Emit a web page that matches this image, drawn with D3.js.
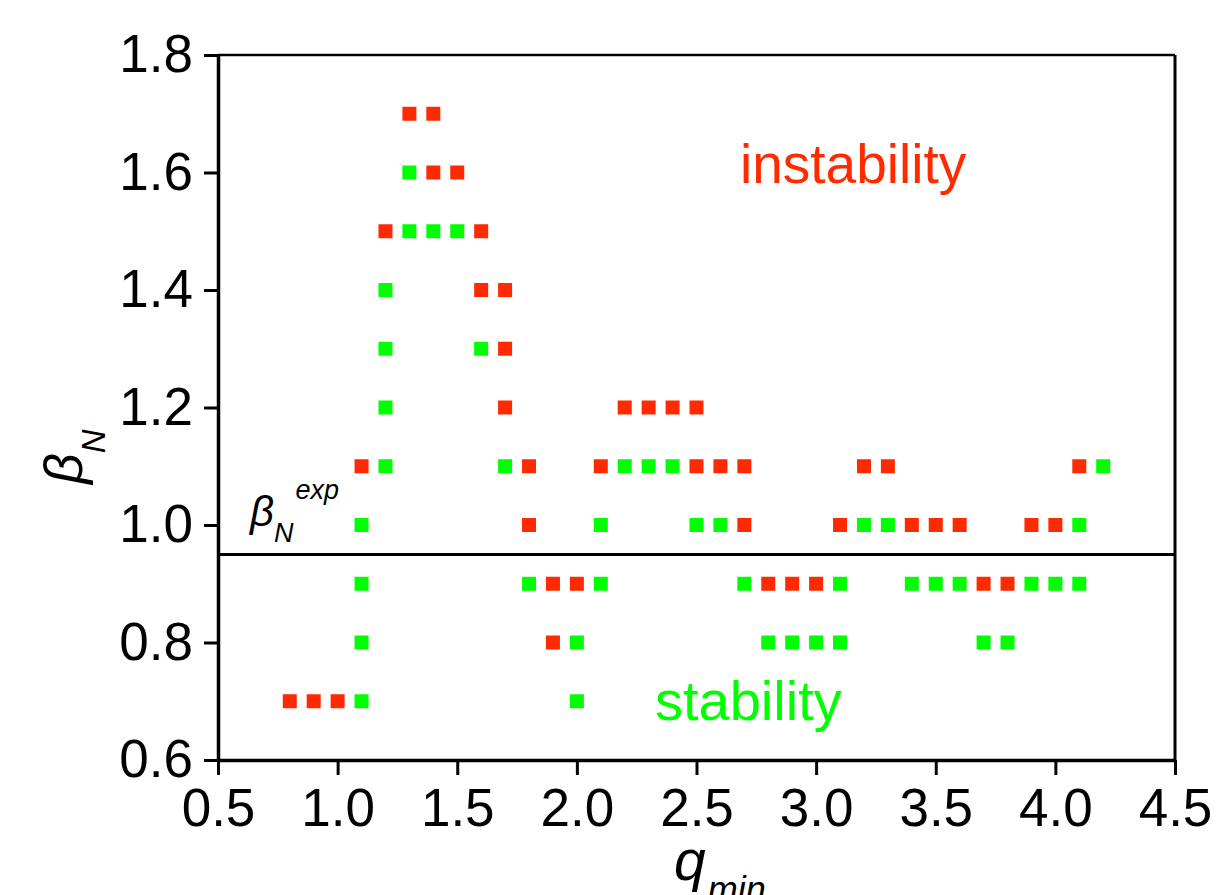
<!DOCTYPE html>
<html>
<head>
<meta charset="utf-8">
<script src="https://cdn.jsdelivr.net/npm/d3@7"></script>
<style>
	body { margin: 0; background: #fff; }
	svg { display: block; font-family: 'Liberation Sans', Arial, sans-serif; }
</style>
</head>
<body>
<div id="chart"></div>
<script>
// points, [q_min, beta_N]
const unstablePoints = [
	[1.3, 1.7], [1.4, 1.7],
	[1.4, 1.6], [1.5, 1.6],
	[1.2, 1.5], [1.6, 1.5],
	[1.6, 1.4], [1.7, 1.4],
	[1.7, 1.3],
	[1.7, 1.2], [2.2, 1.2], [2.3, 1.2], [2.4, 1.2], [2.5, 1.2],
	[1.1, 1.1], [1.8, 1.1], [2.1, 1.1], [2.5, 1.1], [2.6, 1.1], [2.7, 1.1], [3.2, 1.1], [3.3, 1.1], [4.1, 1.1],
	[1.8, 1.0], [2.7, 1.0], [3.1, 1.0], [3.4, 1.0], [3.5, 1.0], [3.6, 1.0], [3.9, 1.0], [4.0, 1.0],
	[1.9, 0.9], [2.0, 0.9], [2.8, 0.9], [2.9, 0.9], [3.0, 0.9], [3.7, 0.9], [3.8, 0.9],
	[1.9, 0.8],
	[0.8, 0.7], [0.9, 0.7], [1.0, 0.7]
];
const stablePoints = [
	[1.3, 1.6],
	[1.3, 1.5], [1.4, 1.5], [1.5, 1.5],
	[1.2, 1.4],
	[1.2, 1.3], [1.6, 1.3],
	[1.2, 1.2],
	[1.2, 1.1], [1.7, 1.1], [2.2, 1.1], [2.3, 1.1], [2.4, 1.1], [4.2, 1.1],
	[1.1, 1.0], [2.1, 1.0], [2.5, 1.0], [2.6, 1.0], [3.2, 1.0], [3.3, 1.0], [4.1, 1.0],
	[1.1, 0.9], [1.8, 0.9], [2.1, 0.9], [2.7, 0.9], [3.1, 0.9], [3.4, 0.9], [3.5, 0.9], [3.6, 0.9], [3.9, 0.9], [4.0, 0.9], [4.1, 0.9],
	[1.1, 0.8], [2.0, 0.8], [2.8, 0.8], [2.9, 0.8], [3.0, 0.8], [3.1, 0.8], [3.7, 0.8], [3.8, 0.8],
	[1.1, 0.7], [2.0, 0.7]
];
const xTicks = [0.5, 1.0, 1.5, 2.0, 2.5, 3.0, 3.5, 4.0, 4.5];
const yTicks = [0.6, 0.8, 1.0, 1.2, 1.4, 1.6, 1.8];
const betaExp = 0.95;

const width = 1217, height = 895;
const plotLeft = 218, plotRight = 1175, plotTop = 55, plotBottom = 760;
const sq = 14;
const red = '#ff2a00', green = '#00ff00';

var svg = d3.select('#chart')
	.append('svg')
	.attr('width', width)
	.attr('height', height);

var x = d3.scaleLinear().domain([0.5, 4.5]).range([plotLeft, plotRight]);
var y = d3.scaleLinear().domain([0.6, 1.8]).range([plotBottom, plotTop]);

// frame (top and right)
svg.append('line')
	.attr('x1', plotLeft).attr('x2', plotRight)
	.attr('y1', plotTop).attr('y2', plotTop)
	.attr('stroke', '#000').attr('stroke-width', 2.5);
svg.append('line')
	.attr('x1', plotRight).attr('x2', plotRight)
	.attr('y1', plotTop).attr('y2', plotBottom)
	.attr('stroke', '#000').attr('stroke-width', 3);

var xAxis = svg.append('g')
	.attr('transform', `translate(0,${plotBottom})`)
	.call(d3.axisBottom(x).tickValues(xTicks).tickFormat(d3.format('.1f')).tickSize(15).tickSizeOuter(0).tickPadding(13));
var yAxis = svg.append('g')
	.attr('transform', `translate(${plotLeft},0)`)
	.call(d3.axisLeft(y).tickValues(yTicks).tickFormat(d3.format('.1f')).tickSize(14).tickSizeOuter(0).tickPadding(11));

[xAxis, yAxis].forEach(a => {
	a.select('.domain').attr('stroke-width', 3.5);
	a.selectAll('.tick line').attr('stroke-width', 3);
	a.selectAll('text')
		.attr('font-size', 53)
		.attr('font-family', "'Liberation Sans', Arial, sans-serif")
		.attr('fill', '#000');
});

// beta_N^exp line
svg.append('line')
	.attr('x1', plotLeft).attr('x2', plotRight)
	.attr('y1', y(betaExp)).attr('y2', y(betaExp))
	.attr('stroke', '#000').attr('stroke-width', 3);

function drawSquares(data, color) {
	svg.append('g')
		.selectAll('rect')
		.data(data)
		.enter()
		.append('rect')
		.attr('x', d => x(d[0]) - sq / 2)
		.attr('y', d => y(d[1]) - sq / 2)
		.attr('width', sq)
		.attr('height', sq)
		.attr('fill', color);
}
drawSquares(unstablePoints, red);
drawSquares(stablePoints, green);

// region labels
svg.append('text')
	.attr('x', 740).attr('y', 183)
	.attr('font-size', 55)
	.attr('fill', red)
	.text('instability');
svg.append('text')
	.attr('x', 655).attr('y', 720)
	.attr('font-size', 56)
	.attr('fill', green)
	.text('stability');

// beta_N^exp label
var bl = svg.append('text')
	.attr('x', 250).attr('y', 526)
	.attr('font-style', 'italic');
bl.append('tspan').attr('font-size', 42).text('β');
bl.append('tspan').attr('font-size', 27).attr('dy', 16).text('N');
bl.append('tspan').attr('font-size', 27).attr('dy', -43).attr('dx', 2).text('exp');

// axis titles
var xt = svg.append('text')
	.attr('x', 674).attr('y', 880)
	.attr('font-style', 'italic');
xt.append('tspan').attr('font-size', 57).text('q');
xt.append('tspan').attr('font-size', 36).attr('dy', 22).attr('dx', 2).text('min');

var yt = svg.append('text')
	.attr('transform', 'translate(82,484) rotate(-90)')
	.attr('font-style', 'italic');
yt.append('tspan').attr('font-size', 54).text('β');
yt.append('tspan').attr('font-size', 33).attr('dy', 23).text('N');
</script>
</body>
</html>
